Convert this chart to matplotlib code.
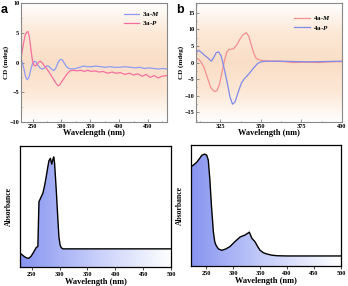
import numpy as np
import matplotlib
matplotlib.use("Agg")
import matplotlib.pyplot as plt
from matplotlib.colors import LinearSegmentedColormap
from matplotlib.ticker import AutoMinorLocator

plt.rcParams['font.family'] = ['Liberation Serif', 'DejaVu Serif']
plt.rcParams['font.weight'] = 'bold'
plt.rcParams['mathtext.fontset'] = 'custom'
plt.rcParams['mathtext.it'] = 'Liberation Serif:italic:bold'
plt.rcParams['mathtext.rm'] = 'Liberation Serif:bold'

# panel a: CD of 3a
wl_3aM = [231, 235, 238, 241, 244, 247, 250, 253, 256, 259, 263, 267, 271, 275, 279, 283, 287, 290,
          293, 296, 299, 302, 305, 309, 313, 318, 325, 332, 338, 345, 352, 360, 368, 376, 384, 392,
          400, 410, 420, 428, 436, 444, 452, 460, 468, 476, 483]
cd_3aM = [0.4, -1.0, -2.4, -2.9, -2.4, -1.2, -0.2, 0.2, 0.1, -0.4, -0.9, -1.1, -0.9, -0.55, -0.7, -1.1,
          -1.35, -1.0, -0.3, 0.3, 0.55, 0.4, -0.1, -0.7, -1.0, -1.1, -1.0, -0.8, -0.6, -0.7, -0.7, -0.6,
          -0.7, -0.8, -0.7, -0.8, -0.8, -0.7, -0.8, -0.9, -0.8, -1.0, -0.9, -1.0, -1.1, -1.0, -1.1]
wl_3aP = [231, 234, 237, 240, 242, 244, 246, 248, 250, 252, 255, 258, 261, 264, 267, 271, 275, 280,
          285, 290, 294, 297, 300, 305, 310, 315, 320, 327, 333, 340, 346, 352, 358, 365, 372, 380,
          388, 395, 402, 410, 418, 425, 432, 440, 447, 454, 461, 468, 474, 483]
cd_3aP = [1.3, 3.0, 4.5, 5.1, 5.2, 4.6, 3.2, 1.6, 0.3, -0.4, -0.6, -0.3, 0.1, 0.2, -0.1, -0.6, -1.1,
          -1.8, -2.6, -3.4, -3.9, -3.8, -3.3, -2.6, -1.9, -1.4, -1.3, -1.4, -1.3, -1.5, -1.3, -1.5,
          -1.4, -1.6, -1.5, -1.8, -1.6, -1.8, -1.7, -2.0, -1.8, -2.1, -1.9, -2.3, -2.0, -2.5, -2.2,
          -2.6, -2.3, -2.2]

# panel b: CD of 4a
wl_4aP = [310, 311.5, 313, 315, 317.5, 319.5, 321, 322.5, 324, 325.5, 327, 329, 331, 332.5, 334, 336,
          338, 340, 342, 344, 346, 348, 350, 353, 360, 370, 380, 390, 400]
cd_4aP = [2.8, 3.7, 3.2, 2.3, 1.3, 0.4, 1.6, 3.0, 3.2, 2.0, -1.0, -5.5, -10.5, -12.6, -12.0, -9.0,
          -6.2, -4.8, -3.8, -2.6, -1.4, -0.3, 0.2, 0.4, 0.4, 0.3, 0.2, 0.3, 0.4]
wl_4aM = [310, 311.5, 313, 315, 317, 319, 321.4, 323, 324.5, 326, 327.5, 329, 330.5, 333, 335, 337,
          339, 341, 342.5, 344, 345.5, 347, 349, 352, 356, 362, 370, 378, 385, 392, 400]
cd_4aM = [1.4, 1.0, 0.3, -1.5, -4.5, -7.5, -8.8, -8.5, -6.5, -3.0, 0.5, 3.2, 4.0, 4.1, 5.2, 7.0, 8.4,
          9.0, 8.0, 5.5, 3.0, 1.3, 0.8, 0.5, 0.4, 0.4, 0.0, 0.1, 0.0, 0.2, 0.3]

# bottom: absorbance (arbitrary units)
wl_abs3 = [229, 233, 237, 241, 245, 249, 253, 258, 261, 263, 267, 270, 273, 276, 279, 281, 283.5,
           286, 288, 289.5, 291, 294, 296.5, 298.8, 301, 303, 306, 500]
abs_3 = [0.115, 0.10, 0.085, 0.075, 0.072, 0.09, 0.12, 0.16, 0.17, 0.54, 0.58, 0.61, 0.67, 0.746,
         0.83, 0.88, 0.898, 0.85, 0.89, 0.91, 0.86, 0.64, 0.43, 0.25, 0.18, 0.16, 0.15, 0.15]
wl_abs4 = [222, 228, 233, 238, 242, 247, 251, 254, 257, 260, 263.5, 266, 268.5, 273, 279, 286, 294,
           303, 313, 322, 327, 330, 332, 334.6, 340.7, 345, 350, 356, 362, 371, 381, 400, 500]
abs_4 = [0.82, 0.84, 0.86, 0.89, 0.915, 0.925, 0.917, 0.876, 0.71, 0.49, 0.28, 0.2, 0.17, 0.14, 0.13,
         0.14, 0.16, 0.2, 0.24, 0.256, 0.27, 0.28, 0.26, 0.23, 0.2, 0.165, 0.13, 0.11, 0.1, 0.09,
         0.085, 0.083, 0.083]

fig = plt.figure(figsize=(3.48, 2.86), dpi=100)

ax_a = fig.add_axes([0.0603, 0.5734, 0.4195, 0.416])
ax_b = fig.add_axes([0.5632, 0.5734, 0.4195, 0.416])
ax_c = fig.add_axes([0.0575, 0.0664, 0.434, 0.423])
ax_d = fig.add_axes([0.5489, 0.0699, 0.431, 0.423])

orange = LinearSegmentedColormap.from_list(
    "bgo", [(1, 1, 1), (0.99, 0.91, 0.84), (0.98, 0.87, 0.78), (0.99, 0.91, 0.84), (1, 1, 1)])
blue = LinearSegmentedColormap.from_list("bgb", [(0.53, 0.58, 0.94), (0.78, 0.81, 0.98), (1, 1, 1)])


def style_cd(ax, xlim, ylim, xticks, yticks):
    ax.set_xlim(*xlim)
    ax.set_ylim(*ylim)
    grad = np.linspace(0, 1, 256).reshape(-1, 1)
    ax.imshow(grad, cmap=orange, aspect='auto', extent=[xlim[0], xlim[1], ylim[0], ylim[1]],
              origin='lower', zorder=0)
    ax.set_xticks(xticks)
    ax.set_yticks(yticks)
    ax.xaxis.set_minor_locator(AutoMinorLocator(2))
    ax.yaxis.set_minor_locator(AutoMinorLocator(2))
    ax.tick_params(which='both', direction='in', labelsize=4.5, colors='#666666', length=2,
                   width=0.5, pad=1.2)
    ax.tick_params(which='minor', length=1)
    for lab in ax.get_xticklabels() + ax.get_yticklabels():
        lab.set_color('black')
    for s in ax.spines.values():
        s.set_color('#888888')
        s.set_linewidth(0.8)
    ax.set_xlabel("Wavelength (nm)", fontsize=6, fontweight='bold', labelpad=0.5)
    ax.set_ylabel("CD (mdeg)", fontsize=5, fontweight='bold', labelpad=0.5)


style_cd(ax_a, (230, 483), (-10, 10), [250, 300, 350, 400, 450], [-10, -5, 0, 5, 10])
ax_a.plot(wl_3aM, cd_3aM, color='#8e9bf2', lw=0.9, label='3a-$M$')
ax_a.plot(wl_3aP, cd_3aP, color='#f56f9e', lw=0.9, label='3a-$P$')
ax_a.legend(loc='upper right', fontsize=5, frameon=False, handlelength=2.2, labelspacing=0.2,
            borderaxespad=0.6, handletextpad=0.5)

style_cd(ax_b, (310, 400), (-18, 18), [325, 350, 375, 400], [-15, -10, -5, 0, 5, 10, 15])
ax_b.plot(wl_4aM, cd_4aM, color='#f58f90', lw=0.9, label='4a-$M$')
ax_b.plot(wl_4aP, cd_4aP, color='#7f8ae8', lw=0.9, label='4a-$P$')
ax_b.legend(loc='upper right', fontsize=5, frameon=False, handlelength=2.2, labelspacing=0.2,
            borderaxespad=1.2, handletextpad=0.5)


def style_abs(ax, x, y, xlim):
    ax.set_xlim(*xlim)
    ax.set_ylim(0, 1)
    grad = np.linspace(0, 1, 256).reshape(1, -1)
    im = ax.imshow(grad, cmap=blue, aspect='auto', extent=[xlim[0], xlim[1], 0, 1], zorder=1)
    poly = ax.fill_between(x, 0, y, color='none', lw=0)
    im.set_clip_path(poly.get_paths()[0], transform=ax.transData)
    ax.plot(x, y, color='black', lw=1.0, zorder=3)
    ax.set_xticks([250, 300, 350, 400, 450, 500])
    ax.set_yticks([])
    ax.tick_params(axis='x', direction='out', labelsize=4.5, length=2, width=0.5, pad=1.5)
    for s in ax.spines.values():
        s.set_linewidth(0.9)
    ax.set_xlabel("Wavelength (nm)", fontsize=6, fontweight='bold', labelpad=0.5)
    ax.set_ylabel("Absorbance", fontsize=5.5, fontweight='bold', labelpad=5)


style_abs(ax_c, wl_abs3, abs_3, (229, 500))
style_abs(ax_d, wl_abs4, abs_4, (222, 500))

fig.text(0.003, 0.985, "a", fontsize=9, fontweight='bold', family='Liberation Sans', va='top')
fig.text(0.505, 0.985, "b", fontsize=9, fontweight='bold', family='Liberation Sans', va='top')

fig.savefig("out.png", dpi=100)
